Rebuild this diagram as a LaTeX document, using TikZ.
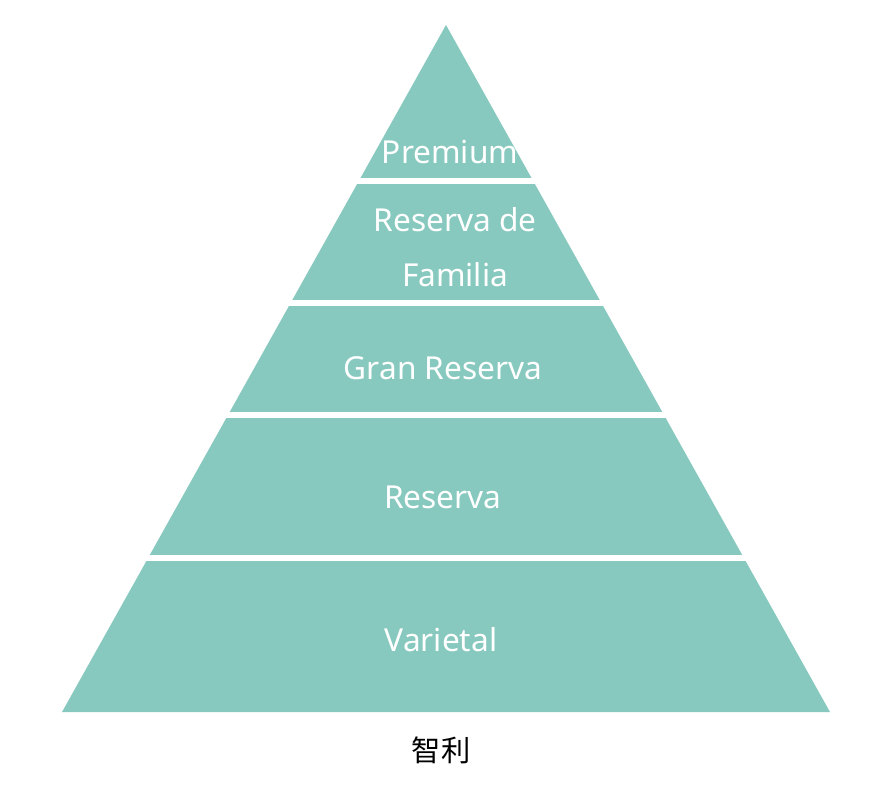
\documentclass[tikz,border=0pt]{standalone}
\usepackage{fontspec}
\setmainfont{Noto Sans}
\newfontfamily\cjk{Noto Sans CJK SC}
\definecolor{pyr_teal}{RGB}{136, 201, 191}
\tikzstyle{lvl}=[text=white,font=\fontsize{27}{47}\selectfont,align=center,inner sep=0pt]
\tikzstyle{gap}=[draw=white,line width=0.18cm]
\begin{document}
\begin{tikzpicture}[x=0.03cm,y=-0.03cm]
    \useasboundingbox (0,0) rectangle (890,800);
    \coordinate (top) at (446,25);
    \coordinate (bl) at (62,712);
    \coordinate (br) at (830,712);
    \fill [pyr_teal] (top) -- (bl) -- (br) -- cycle;
    \draw [style=gap] (300,181) to (600,181);
    \draw [style=gap] (250,303) to (650,303);
    \draw [style=gap] (200,415) to (700,415);
    \draw [style=gap] (100,558) to (800,558);
    \node [style=lvl] (premium) at (450,152) {Premium};
    \node [style=lvl] (familia) at (455,247) {Reserva de\\Familia};
    \node [style=lvl] (gran) at (443,368) {Gran Reserva};
    \node [style=lvl] (reserva) at (443,497) {Reserva};
    \node [style=lvl] (varietal) at (441,640) {Varietal};
    \node [font=\cjk\fontsize{25}{28}\selectfont] (chile) at (441,750) {智利};
\end{tikzpicture}
\end{document}
